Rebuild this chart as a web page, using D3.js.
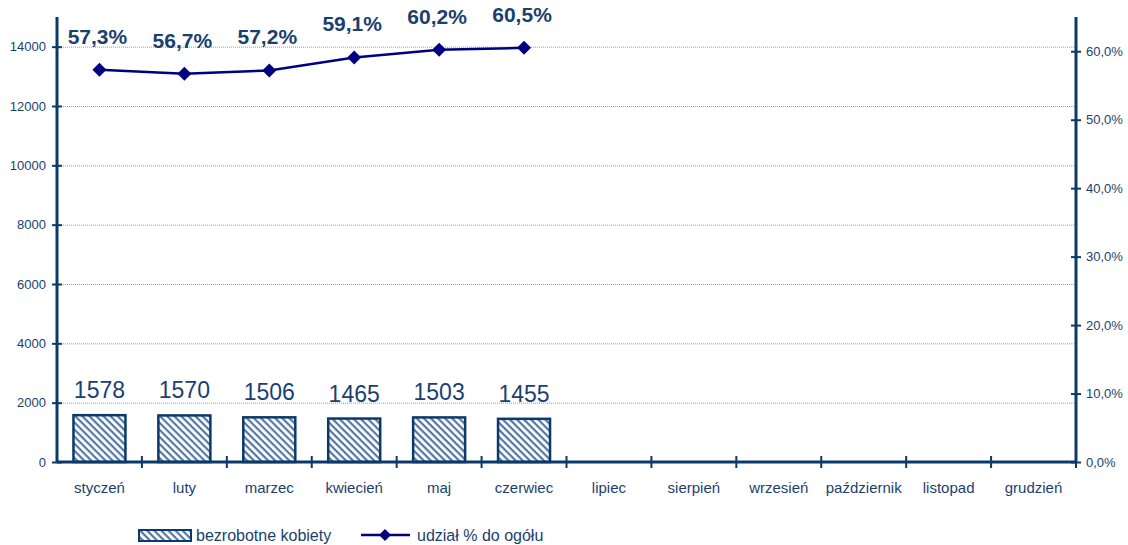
<!DOCTYPE html>
<html><head><meta charset="utf-8">
<script src="https://cdn.jsdelivr.net/npm/d3@7"></script>
<style>body{margin:0;background:#fff}svg{display:block;font-family:"Liberation Sans",Arial,sans-serif}</style>
</head><body>
<svg id="c" width="1128" height="545"></svg>
<script>
const months = ["styczeń","luty","marzec","kwiecień","maj","czerwiec","lipiec","sierpień","wrzesień","październik","listopad","grudzień"];
const women = [1578,1570,1506,1465,1503,1455];
const share = [57.3,56.7,57.2,59.1,60.2,60.5];
const leftTicks = [0,2000,4000,6000,8000,10000,12000,14000];
const rightTicks = [0,10,20,30,40,50,60];
const seriesNames = ["bezrobotne kobiety","udział % do ogółu"];

const svg = d3.select("#c");
const L = 57, R = 1076, B = 462, T = 17;
const axisCol = "#0b3a6a", lineCol = "#000080", txtCol = "#1b3f6e";

const x = d3.scaleBand().domain(months).range([L, R]).paddingInner(0).paddingOuter(0);
const yL = d3.scaleLinear().domain([0, 15000]).range([B, T]);
const yR = d3.scaleLinear().domain([0, 65]).range([B, T]);

const defs = svg.append("defs");
const pat = defs.append("pattern").attr("id","hatch").attr("patternUnits","userSpaceOnUse")
  .attr("width",5).attr("height",5).attr("patternTransform","rotate(45)");
pat.append("rect").attr("width",5).attr("height",5).attr("fill","#fff");
pat.append("rect").attr("x",0).attr("y",0).attr("width",5).attr("height",2.2).attr("fill","#5577a3");

// gridlines
svg.append("g").selectAll("line").data(leftTicks.filter(d=>d>0)).join("line")
  .attr("x1",L).attr("x2",R).attr("y1",d=>yL(d)+0.5).attr("y2",d=>yL(d)+0.5)
  .attr("stroke","#8a9cbc").attr("stroke-width",1).attr("stroke-dasharray","1,1");

// bars
const bw = 52;
svg.append("g").selectAll("rect").data(women).join("rect")
  .attr("x",(d,i)=>x(months[i])+x.bandwidth()/2-bw/2)
  .attr("y",d=>yL(d)).attr("width",bw).attr("height",d=>B-yL(d))
  .attr("fill","url(#hatch)").attr("stroke",axisCol).attr("stroke-width",2.5);

svg.append("g").selectAll("text").data(women).join("text")
  .attr("x",(d,i)=>x(months[i])+x.bandwidth()/2).attr("y",d=>yL(d)-17)
  .attr("text-anchor","middle").attr("font-size",23).attr("fill",txtCol).text(d=>d);

// left axis
const gl = svg.append("g").attr("transform",`translate(${L},0)`)
  .call(d3.axisLeft(yL).tickValues(leftTicks).tickSize(5).tickFormat(d3.format("d")));
gl.select(".domain").remove();
gl.selectAll(".tick line").attr("x1",5).attr("x2",-5).attr("stroke",axisCol).attr("stroke-width",2);
gl.selectAll(".tick text").attr("x",-11).attr("font-size",13).attr("fill",txtCol).attr("font-family","Liberation Sans, Arial");
svg.append("line").attr("x1",L).attr("x2",L).attr("y1",T).attr("y2",B+1).attr("stroke",axisCol).attr("stroke-width",3);

// right axis
const gr = svg.append("g").attr("transform",`translate(${R},0)`)
  .call(d3.axisRight(yR).tickValues(rightTicks).tickSize(5).tickFormat(d=>d3.format(".1f")(d).replace(".",",")+"%"));
gr.select(".domain").remove();
gr.selectAll(".tick line").attr("x1",-5).attr("x2",5).attr("stroke",axisCol).attr("stroke-width",2);
gr.selectAll(".tick text").attr("x",10).attr("font-size",13).attr("fill",txtCol).attr("font-family","Liberation Sans, Arial");
svg.append("line").attr("x1",R).attr("x2",R).attr("y1",T).attr("y2",B+1).attr("stroke",axisCol).attr("stroke-width",3);

// x axis
svg.append("line").attr("x1",L).attr("x2",R).attr("y1",B).attr("y2",B).attr("stroke",axisCol).attr("stroke-width",3);
svg.append("g").selectAll("line").data(months).join("line")
  .attr("x1",d=>x(d)+x.bandwidth()).attr("x2",d=>x(d)+x.bandwidth())
  .attr("y1",B-6).attr("y2",B+6).attr("stroke",axisCol).attr("stroke-width",2);
svg.append("g").selectAll("text").data(months).join("text")
  .attr("x",d=>x(d)+x.bandwidth()/2).attr("y",B+31).attr("text-anchor","middle")
  .attr("font-size",15).attr("fill",txtCol).text(d=>d);

// line
const cx = i=>x(months[i])+x.bandwidth()/2;
svg.append("path").datum(share)
  .attr("d",d3.line().x((d,i)=>cx(i)).y(d=>yR(d)))
  .attr("fill","none").attr("stroke",lineCol).attr("stroke-width",2.5);
svg.append("g").selectAll("path").data(share).join("path")
  .attr("transform",(d,i)=>`translate(${cx(i)},${yR(d)})`)
  .attr("d","M0,-7L7,0L0,7L-7,0Z").attr("fill",lineCol);
svg.append("g").selectAll("text").data(share).join("text")
  .attr("x",(d,i)=>cx(i)-2).attr("y",d=>yR(d)-26).attr("text-anchor","middle")
  .attr("font-size",21).attr("font-weight","bold").attr("fill",txtCol)
  .text(d=>d3.format(".1f")(d).replace(".",",")+"%");

// legend
const lg = svg.append("g");
lg.append("rect").attr("x",139).attr("y",530).attr("width",52).attr("height",11)
  .attr("fill","url(#hatch)").attr("stroke",axisCol).attr("stroke-width",2);
lg.append("text").attr("x",196).attr("y",541).attr("font-size",16).attr("fill",txtCol).text(seriesNames[0]);
lg.append("line").attr("x1",361).attr("x2",410).attr("y1",535).attr("y2",535).attr("stroke",lineCol).attr("stroke-width",2.5);
lg.append("path").attr("transform","translate(385,535)").attr("d","M0,-6L6,0L0,6L-6,0Z").attr("fill",lineCol);
lg.append("text").attr("x",417).attr("y",541).attr("font-size",16).attr("fill",txtCol).text(seriesNames[1]);
</script>
</body></html>
